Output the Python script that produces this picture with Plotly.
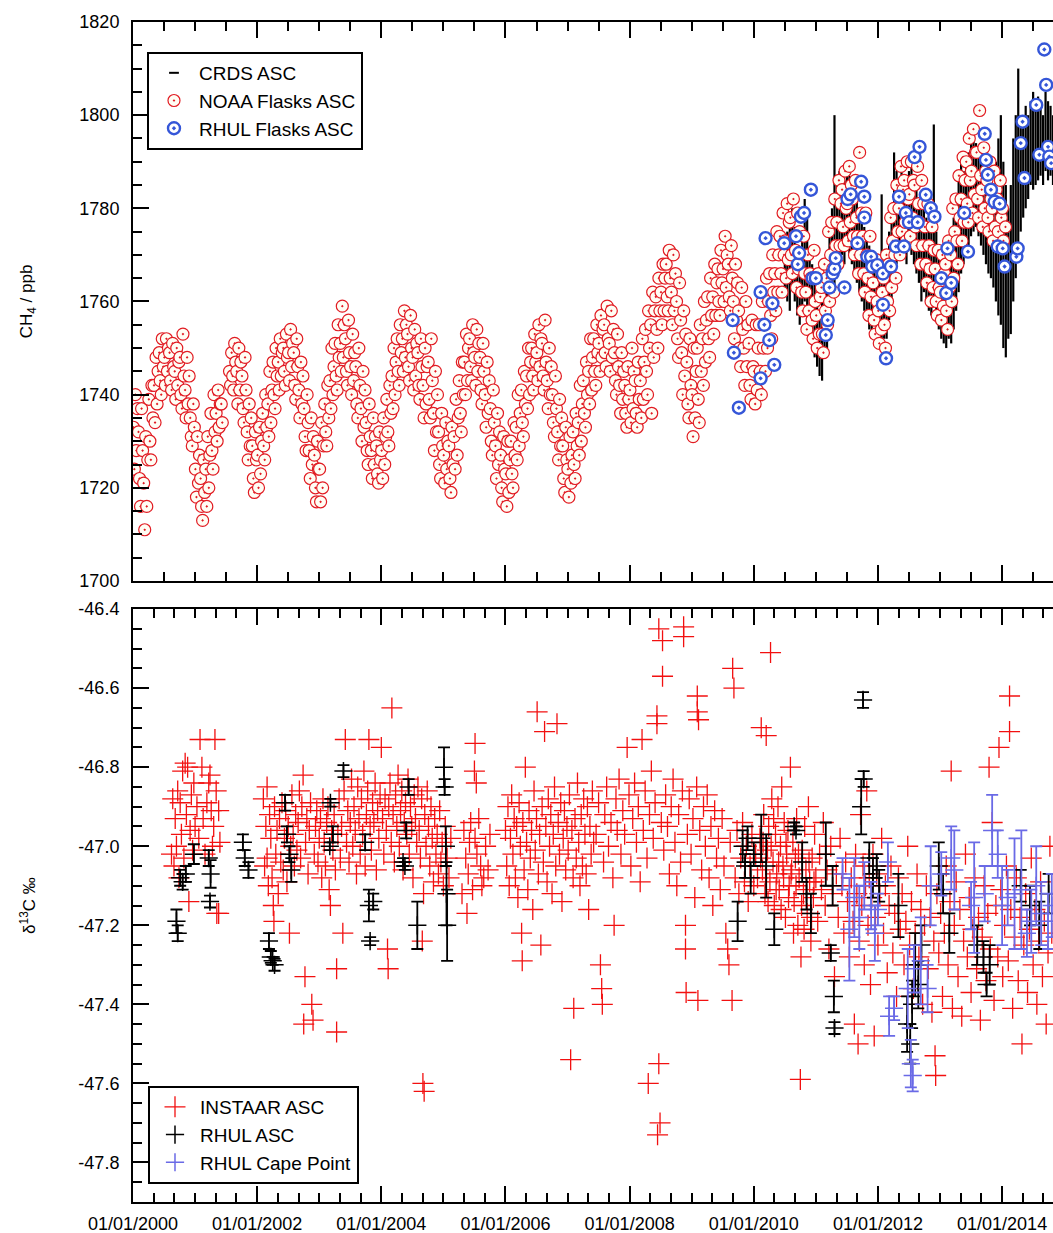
import plotly.graph_objects as go

FONT = "Liberation Sans, Arial, sans-serif"

# ---------------- top panel: CH4 (ppb) ----------------
# NOAA flasks ASC: five samples per month (days 3, 9, 15, 21, 27), Jan 2000 -> Jan 2014
noaa_days = [3, 9, 15, 21, 27]
noaa_ch4 = [
    # 2000
    1733, 1724, 1740, 1728, 1737,  1732, 1722, 1716, 1737, 1728,  1721, 1711, 1731, 1716, 1726,
    1739, 1730, 1726, 1742, 1735,  1742, 1734, 1748, 1738, 1745,  1749, 1743, 1740, 1752, 1746,
    1748, 1742, 1752, 1745, 1750,  1749, 1743, 1741, 1751, 1746,  1745, 1739, 1750, 1742, 1747,
    1748, 1740, 1737, 1753, 1744,  1741, 1735, 1748, 1738, 1744,  1735, 1731, 1729, 1738, 1733,
    # 2001
    1724, 1718, 1731, 1721, 1727,  1722, 1716, 1713, 1726, 1719,  1724, 1716, 1731, 1720, 1727,
    1736, 1728, 1724, 1740, 1732,  1736, 1730, 1741, 1733, 1738,  1738, 1734, None, None, None,
    None, None, None, 1745, 1742,  1749, 1744, 1741, 1751, 1747,  1745, 1738, 1750, 1741, 1747,
    1744, 1737, 1734, 1748, 1741,  1732, 1726, 1738, 1729, 1735,  1729, 1722, 1719, 1732, 1726,
    # 2002
    1727, 1720, 1733, 1723, 1730,  1736, 1729, 1726, 1740, 1733,  1738, 1731, 1745, 1734, 1741,
    1747, 1740, 1737, 1750, 1744,  1747, 1741, 1752, 1744, 1749,  1750, 1745, 1742, 1753, 1748,
    1749, 1743, 1754, 1746, 1751,  1749, 1742, 1739, 1752, 1746,  1741, 1735, 1747, 1738, 1744,
    1737, 1731, 1728, 1740, 1734,  1728, 1722, 1735, 1725, 1731,  1727, 1720, 1717, 1730, 1724,
    # 2003
    1724, 1717, 1734, 1720, 1729,  1738, 1732, 1729, 1742, 1735,  1743, 1737, 1750, 1740, 1746,
    1751, 1744, 1741, 1755, 1748,  1751, 1745, 1759, 1748, 1755,  1752, 1745, 1742, 1756, 1749,
    1746, 1740, 1753, 1743, 1749,  1746, 1738, 1735, 1750, 1742,  1737, 1730, 1745, 1733, 1741,
    1734, 1728, 1725, 1738, 1731,  1728, 1722, 1735, 1725, 1731,  1729, 1723, 1721, 1732, 1726,
    # 2004
    1728, 1722, 1735, 1725, 1731,  1739, 1732, 1729, 1742, 1736,  1744, 1737, 1750, 1740, 1747,
    1752, 1745, 1742, 1755, 1749,  1752, 1745, 1758, 1748, 1755,  1753, 1746, 1743, 1757, 1750,
    1748, 1741, 1754, 1744, 1751,  1749, 1742, 1739, 1752, 1746,  1742, 1735, 1750, 1738, 1746,
    1747, 1739, 1735, 1752, 1743,  1736, 1728, 1745, 1732, 1740,  1732, 1725, 1722, 1736, 1729,
    # 2005
    1727, 1721, 1734, 1724, 1730,  1729, 1722, 1719, 1733, 1725,  1731, 1724, 1739, 1727, 1735,
    1743, 1736, 1732, 1747, 1740,  1747, 1740, 1753, 1743, 1750,  1752, 1746, 1743, 1755, 1749,
    1748, 1742, 1754, 1745, 1751,  1748, 1741, 1738, 1751, 1745,  1740, 1733, 1747, 1736, 1743,
    1737, 1730, 1727, 1741, 1734,  1729, 1722, 1736, 1725, 1732,  1727, 1720, 1717, 1731, 1724,
    # 2006
    1723, 1716, 1730, 1719, 1726,  1730, 1723, 1720, 1734, 1727,  1733, 1726, 1740, 1729, 1736,
    1741, 1734, 1731, 1745, 1738,  1744, 1737, 1750, 1740, 1747,  1750, 1744, 1741, 1753, 1747,
    1749, 1743, 1755, 1746, 1752,  1751, 1744, 1741, 1756, 1747,  1743, 1737, 1750, 1740, 1746,
    1740, 1734, 1731, 1744, 1737,  1732, 1726, 1739, 1729, 1735,  1729, 1722, 1719, 1733, 1726,
    # 2007
    1724, 1718, 1731, 1721, 1727,  1732, 1725, 1722, 1736, 1729,  1734, 1727, 1742, 1730, 1738,
    1743, 1736, 1733, 1747, 1740,  1745, 1738, 1752, 1741, 1748,  1752, 1745, 1742, 1755, 1749,
    1751, 1745, 1757, 1748, 1754,  1755, 1749, 1746, 1759, 1752,  1751, 1745, 1758, 1748, 1754,
    1749, 1743, 1740, 1753, 1746,  1742, 1736, 1749, 1739, 1745,  1742, 1736, 1733, 1746, 1739,
    # 2008
    1741, 1734, 1750, 1737, 1745,  1743, 1736, 1733, 1747, 1739,  1743, 1735, 1752, 1739, 1747,
    1754, 1745, 1740, 1758, 1750,  1755, 1736, 1762, 1748, 1758,  1761, 1754, 1750, 1765, 1758,
    1762, 1755, 1768, 1758, 1765,  1768, 1761, 1758, 1771, 1765,  1762, 1755, 1770, 1758, 1766,
    1760, 1752, 1748, 1764, 1756,  1749, 1740, 1758, 1744, 1753,  1747, 1738, 1735, 1752, 1742,
    # 2009
    1740, 1731, 1750, 1735, 1745,  1750, 1739, 1734, 1755, 1745,  1752, 1742, 1760, 1747, 1756,
    1761, 1752, 1748, 1765, 1757,  1761, 1753, 1768, 1757, 1764,  1767, 1760, 1757, 1771, 1764,
    1767, 1760, 1774, 1763, 1770,  1768, 1761, 1758, 1772, 1765,  1760, 1752, 1768, 1756, 1764,
    1758, 1750, 1746, 1763, 1754,  1750, 1742, 1760, 1746, 1755,  1751, 1742, 1739, 1756, 1746,
    # 2010
    1745, 1738, 1755, 1741, 1750,  1755, 1745, 1740, 1760, 1750,  1755, 1745, 1765, 1750, 1760,
    1766, 1757, 1752, 1770, 1762,  1766, 1758, 1775, 1762, 1770,  1774, 1766, 1762, 1779, 1770,
    1773, 1765, 1781, 1769, 1777,  1778, 1770, 1766, 1782, 1774,  1771, 1763, 1779, 1767, 1775,
    1770, 1762, 1758, 1774, 1766,  1762, 1754, 1770, 1758, 1766,  1765, 1756, 1752, 1771, 1760,
    # 2011
    1757, 1750, 1766, 1753, 1761,  1763, 1753, 1749, 1768, 1758,  1765, 1755, 1775, 1760, 1770,
    1777, 1767, 1762, 1782, 1772,  1777, 1768, 1786, 1772, 1781,  1784, 1776, 1772, 1788, 1780,
    1781, 1773, 1789, 1777, 1785,  1782, 1774, 1770, 1786, 1778,  1774, 1766, 1792, 1770, 1779,
    1774, 1766, 1762, 1779, 1770,  1765, 1757, 1774, 1761, 1769,  1764, 1756, 1753, 1769, 1760,
    # 2012
    1758, 1751, 1767, 1754, 1762,  1765, 1755, 1750, 1770, 1760,  1768, 1758, 1778, 1763, 1773,
    1780, 1770, 1765, 1785, 1775,  1780, 1770, 1789, 1775, 1784,  1786, 1777, 1773, 1790, 1782,
    1783, 1774, 1790, 1778, 1786,  1785, 1776, 1772, 1789, 1781,  1777, 1768, 1786, 1772, 1781,
    1776, 1768, 1764, 1781, 1772,  1767, 1760, 1776, 1763, 1771,  1767, 1760, 1757, 1771, 1763,
    # 2013
    1762, 1756, 1770, 1759, 1766,  1768, 1758, 1754, 1773, 1763,  1770, 1760, 1780, 1765, 1775,
    1782, 1773, 1768, 1787, 1778,  1782, 1773, 1791, 1777, 1786,  1790, 1781, 1777, 1795, 1786,
    1788, 1779, 1797, 1783, 1792,  1792, 1782, 1778, 1801, 1787,  1784, 1776, 1793, 1780, 1788,
    1786, 1778, 1775, 1790, 1782,  1780, 1773, 1788, 1776, 1784,  1782, 1775, 1772, 1786, 1778,
    # 2014
    1780, 1773, None, 1776, None,
]

# RHUL flasks ASC (decimal year, ppb)
rhul_flask_pts = [
    (2009.66, 1756), (2009.68, 1749), (2009.76, 1737.2), (2010.11, 1762), (2010.11, 1743.5), (2010.17, 1755),
    (2010.19, 1773.6), (2010.25, 1751.7), (2010.30, 1759.6), (2010.33, 1746.4), (2010.49, 1772.5), (2010.68, 1774),
    (2010.71, 1768), (2010.73, 1770.4), (2010.76, 1778.2), (2010.81, 1779), (2010.92, 1784), (2010.95, 1765),
    (2011.00, 1765), (2011.16, 1752.8), (2011.19, 1756), (2011.22, 1763), (2011.27, 1766), (2011.30, 1767),
    (2011.32, 1769.3), (2011.46, 1763), (2011.51, 1782), (2011.56, 1783), (2011.67, 1772.5), (2011.73, 1785.7),
    (2011.78, 1782.5), (2011.78, 1778), (2011.83, 1769.6), (2011.89, 1769.6), (2011.91, 1767.5), (2011.99, 1767.8),
    (2012.08, 1766), (2012.08, 1759.3), (2012.13, 1747.8), (2012.21, 1767.5), (2012.29, 1771.8), (2012.34, 1782.5),
    (2012.42, 1771.8), (2012.45, 1779), (2012.50, 1777), (2012.59, 1791), (2012.64, 1777), (2012.67, 1793.2),
    (2012.77, 1782.9), (2012.85, 1780), (2012.91, 1778.2), (2013.02, 1765), (2013.10, 1761.8), (2013.12, 1771.4),
    (2013.18, 1764), (2013.39, 1779), (2013.45, 1770.7), (2013.72, 1796), (2013.74, 1790.4), (2013.77, 1787.2),
    (2013.82, 1784), (2013.88, 1781.4), (2013.93, 1771.8), (2013.96, 1781), (2014.01, 1771.4), (2014.04, 1767.5),
    (2014.23, 1769.6), (2014.25, 1771.4), (2014.30, 1794), (2014.33, 1798.6), (2014.36, 1786.5), (2014.55, 1802.2),
    (2014.60, 1791.5), (2014.68, 1814.1), (2014.71, 1806.5), (2014.74, 1793.2), (2014.76, 1791.1), (2014.79, 1789.7),
]

# CRDS ASC: fortnightly range of the continuous record (decimal year, low, high)
crds_pts = [
    (2010.50, 1762, 1772), (2010.54, 1760, 1775), (2010.58, 1758, 1778), (2010.62, 1763, 1780), (2010.66, 1760, 1776),
    (2010.70, 1757, 1772), (2010.74, 1755, 1770), (2010.78, 1758, 1776), (2010.82, 1760, 1782), (2010.86, 1756, 1778),
    (2010.90, 1752, 1770), (2010.94, 1750, 1768), (2010.98, 1748, 1765), (2011.02, 1746, 1760), (2011.06, 1744, 1758),
    (2011.10, 1743, 1762), (2011.14, 1748, 1765), (2011.18, 1750, 1770), (2011.22, 1755, 1775), (2011.26, 1760, 1780),
    (2011.30, 1762, 1800), (2011.34, 1765, 1785), (2011.38, 1768, 1788), (2011.42, 1770, 1787), (2011.46, 1768, 1786),
    (2011.50, 1772, 1788), (2011.54, 1770, 1787), (2011.58, 1768, 1784), (2011.62, 1766, 1786), (2011.66, 1764, 1782),
    (2011.70, 1762, 1780), (2011.74, 1760, 1778), (2011.78, 1758, 1776), (2011.82, 1756, 1774), (2011.86, 1754, 1772),
    (2011.90, 1752, 1770), (2011.94, 1755, 1768), (2011.98, 1752, 1766), (2012.02, 1750, 1765), (2012.06, 1751, 1783),
    (2012.10, 1752, 1768), (2012.14, 1752, 1770), (2012.18, 1756, 1775), (2012.22, 1760, 1780), (2012.26, 1765, 1792),
    (2012.30, 1768, 1788), (2012.34, 1770, 1786), (2012.38, 1772, 1790), (2012.42, 1770, 1786), (2012.46, 1768, 1785),
    (2012.50, 1772, 1788), (2012.54, 1770, 1790), (2012.58, 1768, 1786), (2012.62, 1766, 1784), (2012.66, 1764, 1782),
    (2012.70, 1760, 1780), (2012.74, 1762, 1782), (2012.78, 1760, 1778), (2012.82, 1758, 1776), (2012.86, 1757, 1780),
    (2012.90, 1760, 1798), (2012.94, 1756, 1775), (2012.98, 1754, 1772), (2013.02, 1752, 1770), (2013.06, 1751, 1768),
    (2013.10, 1750, 1770), (2013.14, 1752, 1772), (2013.18, 1751, 1775), (2013.22, 1754, 1778), (2013.26, 1758, 1782),
    (2013.30, 1762, 1786), (2013.34, 1766, 1790), (2013.38, 1768, 1788), (2013.42, 1770, 1790), (2013.46, 1772, 1792),
    (2013.50, 1774, 1795), (2013.54, 1775, 1796), (2013.58, 1776, 1794), (2013.62, 1774, 1792), (2013.66, 1772, 1790),
    (2013.70, 1770, 1788), (2013.74, 1768, 1786), (2013.78, 1766, 1785), (2013.82, 1765, 1782), (2013.86, 1763, 1785),
    (2013.90, 1760, 1790), (2013.94, 1757, 1795), (2013.98, 1755, 1800), (2014.02, 1750, 1790), (2014.06, 1748, 1785),
    (2014.10, 1752, 1780), (2014.14, 1753, 1785), (2014.18, 1760, 1795), (2014.22, 1765, 1800), (2014.26, 1770, 1810),
    (2014.30, 1775, 1800), (2014.34, 1778, 1798), (2014.38, 1780, 1802), (2014.42, 1782, 1800), (2014.46, 1785, 1803),
    (2014.50, 1784, 1805), (2014.54, 1785, 1802), (2014.58, 1786, 1804), (2014.62, 1787, 1803), (2014.66, 1785, 1800),
    (2014.70, 1788, 1805), (2014.74, 1786, 1803), (2014.78, 1787, 1802), (2014.82, 1785, 1800),
]

# ---------------- bottom panel: delta13C (permil) ----------------
instaar_pts = [
    # 2000.6 - 2001.4
    (2000.62, -47.02), (2000.64, -46.88), (2000.66, -47.05), (2000.68, -46.93), (2000.70, -47.00), (2000.72, -46.86),
    (2000.74, -47.08), (2000.76, -46.89), (2000.78, -46.97), (2000.80, -46.81), (2000.82, -47.03), (2000.84, -46.79),
    (2000.86, -46.92), (2000.88, -46.80), (2000.90, -47.14), (2000.92, -46.96), (2000.94, -46.87), (2000.96, -47.01),
    (2000.98, -46.84), (2001.00, -46.95), (2001.03, -46.90), (2001.06, -46.98), (2001.08, -46.73), (2001.11, -46.80),
    (2001.13, -46.93), (2001.16, -47.02), (2001.19, -46.89), (2001.22, -46.84), (2001.24, -46.82), (2001.26, -46.91),
    (2001.28, -47.00), (2001.30, -46.95), (2001.32, -46.73), (2001.34, -46.86), (2001.35, -47.17), (2001.38, -46.91),
    (2001.38, -47.17), (2001.40, -46.99),
    # 2002.1 - 2005.1
    (2002.10, -46.88), (2002.12, -47.05), (2002.14, -46.95), (2002.16, -46.85), (2002.16, -47.03), (2002.18, -47.10),
    (2002.20, -46.92), (2002.22, -46.98), (2002.24, -47.08), (2002.26, -47.15), (2002.27, -47.19), (2002.28, -46.90),
    (2002.30, -47.02), (2002.32, -46.96), (2002.34, -47.12), (2002.36, -46.93), (2002.38, -47.04), (2002.40, -46.89),
    (2002.42, -47.06), (2002.44, -46.98), (2002.46, -46.91), (2002.48, -47.09), (2002.50, -46.95), (2002.52, -47.22),
    (2002.54, -47.00), (2002.56, -46.87), (2002.58, -46.97), (2002.60, -47.05), (2002.62, -46.92), (2002.64, -47.01),
    (2002.66, -46.94), (2002.68, -46.86), (2002.70, -47.03), (2002.72, -46.90), (2002.74, -46.82), (2002.75, -47.45),
    (2002.77, -47.33), (2002.78, -46.99), (2002.80, -46.93), (2002.82, -47.07), (2002.84, -46.96), (2002.86, -46.89),
    (2002.88, -47.40), (2002.90, -47.44), (2002.92, -47.02), (2002.94, -46.95), (2002.96, -46.91), (2002.98, -47.04),
    (2003.00, -46.98), (2003.02, -46.93), (2003.04, -47.08), (2003.06, -46.88), (2003.08, -46.99), (2003.10, -47.05),
    (2003.12, -46.94), (2003.14, -46.90), (2003.16, -47.11), (2003.18, -47.15), (2003.20, -46.96), (2003.22, -47.01),
    (2003.24, -46.92), (2003.26, -47.06), (2003.28, -47.31), (2003.28, -47.47), (2003.30, -46.97), (2003.32, -46.88),
    (2003.34, -47.03), (2003.36, -46.95), (2003.38, -47.22), (2003.40, -46.86), (2003.42, -46.73), (2003.44, -46.99),
    (2003.46, -46.91), (2003.48, -47.04), (2003.50, -46.94), (2003.52, -46.83), (2003.54, -47.00), (2003.56, -46.90),
    (2003.58, -46.96), (2003.60, -47.07), (2003.62, -46.85), (2003.64, -46.93), (2003.66, -47.02), (2003.68, -46.88),
    (2003.70, -46.97), (2003.72, -46.81), (2003.74, -47.05), (2003.76, -46.92), (2003.78, -46.86), (2003.80, -46.73),
    (2003.82, -46.95), (2003.84, -47.01), (2003.86, -46.89), (2003.88, -46.94), (2003.90, -46.84), (2003.92, -47.06),
    (2003.94, -46.91), (2003.96, -46.98), (2003.98, -46.87), (2004.00, -46.75), (2004.02, -46.93), (2004.04, -47.02),
    (2004.06, -46.88), (2004.08, -46.96), (2004.10, -47.26), (2004.11, -47.31), (2004.12, -46.90), (2004.14, -46.84),
    (2004.16, -46.99), (2004.17, -46.65), (2004.19, -46.92), (2004.21, -47.04), (2004.23, -46.87), (2004.25, -46.95),
    (2004.27, -46.82), (2004.29, -47.00), (2004.31, -46.91), (2004.33, -46.86), (2004.35, -47.06), (2004.37, -46.94),
    (2004.39, -46.89), (2004.41, -46.97), (2004.43, -46.83), (2004.45, -47.02), (2004.47, -46.90), (2004.49, -46.95),
    (2004.51, -47.08), (2004.53, -46.87), (2004.55, -46.93), (2004.57, -46.99), (2004.59, -46.85), (2004.61, -46.96),
    (2004.63, -47.03), (2004.65, -46.88), (2004.66, -47.24), (2004.67, -47.60), (2004.68, -47.12), (2004.69, -47.62),
    (2004.70, -46.92), (2004.72, -47.00), (2004.74, -46.86), (2004.76, -46.95), (2004.78, -47.05), (2004.80, -46.90),
    (2004.82, -46.98), (2004.84, -47.09), (2004.86, -46.93), (2004.88, -47.02), (2004.90, -46.97), (2004.92, -47.07),
    (2004.94, -46.91), (2004.96, -47.04), (2004.98, -46.99), (2005.00, -47.10), (2005.03, -46.95), (2005.06, -47.03),
    (2005.09, -47.08), (2005.12, -46.98),
    # 2005.3 - 2005.8
    (2005.30, -47.12), (2005.33, -46.96), (2005.36, -47.03), (2005.38, -47.17), (2005.40, -47.07), (2005.42, -46.99),
    (2005.44, -46.94), (2005.47, -47.11), (2005.50, -46.81), (2005.51, -46.74), (2005.51, -46.98), (2005.53, -46.84),
    (2005.54, -47.02), (2005.57, -46.93), (2005.60, -47.05), (2005.62, -47.10), (2005.65, -47.08), (2005.68, -47.00),
    (2005.72, -47.06), (2005.75, -46.97),
    # 2006.0 - 2007.45
    (2006.00, -46.96), (2006.02, -47.05), (2006.04, -46.90), (2006.06, -47.10), (2006.08, -46.98), (2006.10, -46.87),
    (2006.12, -47.02), (2006.14, -46.93), (2006.16, -47.08), (2006.18, -46.95), (2006.20, -47.13), (2006.22, -46.89),
    (2006.24, -47.00), (2006.26, -47.22), (2006.27, -47.29), (2006.28, -46.94), (2006.30, -47.06), (2006.32, -46.80),
    (2006.34, -46.99), (2006.36, -47.11), (2006.38, -46.91), (2006.40, -47.03), (2006.42, -46.96), (2006.44, -47.16),
    (2006.46, -46.86), (2006.48, -47.01), (2006.50, -46.93), (2006.51, -46.66), (2006.53, -47.07), (2006.55, -46.97),
    (2006.57, -47.25), (2006.59, -46.90), (2006.61, -47.04), (2006.63, -46.71), (2006.65, -46.95), (2006.67, -47.09),
    (2006.69, -46.88), (2006.71, -47.00), (2006.73, -46.92), (2006.75, -47.12), (2006.77, -46.97), (2006.79, -46.85),
    (2006.81, -47.05), (2006.83, -46.69), (2006.85, -46.94), (2006.87, -47.02), (2006.89, -46.89), (2006.91, -47.14),
    (2006.93, -46.98), (2006.95, -46.91), (2006.97, -47.06), (2006.99, -46.95), (2007.01, -47.01), (2007.03, -46.87),
    (2007.05, -47.54), (2007.07, -46.96), (2007.09, -47.08), (2007.10, -47.41), (2007.12, -46.93), (2007.14, -47.03),
    (2007.16, -46.84), (2007.18, -46.99), (2007.20, -47.10), (2007.22, -46.92), (2007.24, -47.05), (2007.26, -46.88),
    (2007.28, -46.97), (2007.30, -47.07), (2007.32, -46.90), (2007.34, -47.16), (2007.36, -46.95), (2007.38, -47.02),
    (2007.40, -46.86), (2007.42, -46.99),
    # 2007.45 - 2010.1
    (2007.46, -46.97), (2007.50, -46.89), (2007.53, -47.30), (2007.55, -47.36), (2007.56, -47.40), (2007.58, -47.04),
    (2007.60, -46.92), (2007.63, -46.85), (2007.66, -47.00), (2007.70, -46.94), (2007.73, -47.08), (2007.75, -47.20),
    (2007.78, -46.88), (2007.80, -46.96), (2007.83, -46.83), (2007.86, -47.02), (2007.89, -46.91), (2007.92, -46.97),
    (2007.96, -46.75), (2007.99, -46.87), (2008.02, -47.05), (2008.05, -46.93), (2008.08, -46.84), (2008.11, -46.99),
    (2008.14, -46.90), (2008.17, -47.09), (2008.20, -46.73), (2008.22, -46.96), (2008.25, -46.86), (2008.28, -47.03),
    (2008.30, -47.60), (2008.32, -46.92), (2008.35, -46.81), (2008.38, -46.98), (2008.41, -46.89), (2008.44, -46.67),
    (2008.44, -46.69), (2008.45, -47.73), (2008.47, -46.45), (2008.47, -47.55), (2008.49, -47.70), (2008.51, -46.94),
    (2008.53, -46.48), (2008.53, -46.57), (2008.55, -47.01), (2008.58, -46.87), (2008.61, -46.95), (2008.64, -47.07),
    (2008.67, -46.90), (2008.70, -46.83), (2008.73, -46.99), (2008.76, -47.10), (2008.79, -46.92), (2008.82, -47.04),
    (2008.85, -46.86), (2008.87, -46.445), (2008.87, -46.47), (2008.90, -47.20), (2008.90, -47.26), (2008.91, -47.37),
    (2008.93, -46.97), (2008.96, -46.88), (2008.99, -47.02), (2009.02, -46.93), (2009.05, -47.13), (2009.08, -46.85),
    (2009.09, -46.62), (2009.09, -46.66), (2009.10, -47.39), (2009.11, -46.68), (2009.13, -46.96), (2009.16, -47.06),
    (2009.19, -46.90), (2009.22, -47.00), (2009.25, -46.87), (2009.28, -47.08), (2009.31, -46.95), (2009.34, -47.15),
    (2009.37, -46.91), (2009.40, -47.03), (2009.43, -46.98), (2009.46, -47.11), (2009.49, -46.93), (2009.52, -47.05),
    (2009.55, -47.22), (2009.58, -47.26), (2009.60, -47.30), (2009.62, -46.99), (2009.65, -47.39), (2009.66, -46.55),
    (2009.68, -46.60), (2009.70, -47.08), (2009.73, -46.96), (2009.76, -47.12), (2009.79, -47.03), (2009.82, -46.94),
    (2009.85, -47.09), (2009.88, -47.00), (2009.91, -47.14), (2009.94, -47.05), (2009.97, -46.97), (2010.00, -47.10),
    (2010.03, -47.02), (2010.06, -47.08),
    # 2010.1 - 2014.8
    (2010.10, -46.98), (2010.11, -47.03), (2010.12, -46.70), (2010.14, -47.06), (2010.15, -46.99), (2010.16, -46.92),
    (2010.18, -47.12), (2010.19, -47.08), (2010.20, -46.72), (2010.22, -47.01), (2010.23, -47.14), (2010.24, -46.95),
    (2010.26, -47.09), (2010.27, -46.51), (2010.28, -47.00), (2010.29, -46.88), (2010.31, -47.04), (2010.32, -46.93),
    (2010.33, -47.15), (2010.35, -46.97), (2010.36, -47.11), (2010.37, -47.07), (2010.39, -46.90), (2010.40, -47.04),
    (2010.41, -47.11), (2010.43, -47.00), (2010.44, -47.16), (2010.45, -46.85), (2010.47, -47.05), (2010.48, -47.08),
    (2010.49, -46.94), (2010.51, -47.18), (2010.52, -46.99), (2010.53, -47.02), (2010.55, -46.96), (2010.56, -47.13),
    (2010.57, -47.10), (2010.59, -46.80), (2010.60, -47.07), (2010.61, -47.06), (2010.63, -46.99), (2010.64, -47.22),
    (2010.65, -47.14), (2010.67, -47.03), (2010.68, -47.10), (2010.69, -46.93), (2010.71, -47.20), (2010.72, -47.02),
    (2010.73, -47.08), (2010.75, -47.59), (2010.76, -47.28), (2010.77, -47.15), (2010.78, -47.01), (2010.80, -47.12),
    (2010.81, -47.21), (2010.82, -46.95), (2010.84, -47.06), (2010.85, -47.11), (2010.86, -47.17), (2010.88, -46.90),
    (2010.89, -47.04), (2010.90, -47.09), (2010.92, -47.24), (2010.93, -47.18), (2010.94, -47.03), (2010.96, -47.13),
    (2010.97, -47.09), (2010.98, -46.97), (2011.00, -47.08), (2011.03, -47.19), (2011.06, -47.02), (2011.09, -47.11),
    (2011.12, -46.94), (2011.15, -47.15), (2011.18, -47.06), (2011.21, -47.26), (2011.24, -47.00), (2011.27, -47.12),
    (2011.30, -47.33), (2011.33, -47.07), (2011.36, -47.18), (2011.39, -46.98), (2011.42, -47.10), (2011.45, -47.22),
    (2011.48, -47.04), (2011.51, -47.14), (2011.54, -47.28), (2011.57, -47.08), (2011.60, -47.19), (2011.62, -47.45),
    (2011.64, -47.02), (2011.66, -47.12), (2011.68, -47.50), (2011.70, -47.24), (2011.72, -46.92), (2011.74, -47.15),
    (2011.76, -47.05), (2011.78, -47.30), (2011.80, -47.10), (2011.82, -46.86), (2011.84, -47.20), (2011.86, -47.08),
    (2011.88, -47.35), (2011.90, -47.13), (2011.92, -47.02), (2011.94, -47.48), (2011.96, -47.18), (2011.98, -47.07),
    (2012.00, -47.25), (2012.03, -47.12), (2012.06, -46.98), (2012.09, -47.22), (2012.12, -47.10), (2012.15, -47.32),
    (2012.18, -47.15), (2012.21, -47.05), (2012.24, -47.27), (2012.27, -47.17), (2012.30, -47.38), (2012.33, -47.08),
    (2012.36, -47.21), (2012.39, -47.12), (2012.42, -47.30), (2012.45, -47.19), (2012.48, -47.00), (2012.51, -47.25),
    (2012.54, -47.14), (2012.57, -47.36), (2012.60, -47.22), (2012.63, -47.07), (2012.66, -47.28), (2012.69, -47.16),
    (2012.72, -47.40), (2012.75, -47.20), (2012.78, -47.10), (2012.81, -47.31), (2012.84, -47.18), (2012.87, -47.42),
    (2012.90, -47.24), (2012.92, -47.53), (2012.93, -47.58), (2012.95, -47.12), (2012.98, -47.27), (2013.01, -47.17),
    (2013.04, -47.38), (2013.07, -47.22), (2013.10, -47.05), (2013.13, -47.30), (2013.16, -47.14), (2013.18, -46.81),
    (2013.20, -47.41), (2013.23, -47.20), (2013.26, -47.09), (2013.29, -47.33), (2013.32, -47.16), (2013.35, -47.43),
    (2013.38, -47.24), (2013.41, -47.02), (2013.44, -47.28), (2013.47, -47.13), (2013.50, -47.37), (2013.53, -47.21),
    (2013.56, -47.08), (2013.59, -47.31), (2013.62, -47.18), (2013.65, -47.44), (2013.68, -47.23), (2013.71, -47.10),
    (2013.74, -47.34), (2013.77, -47.17), (2013.79, -46.80), (2013.81, -47.26), (2013.84, -46.94), (2013.87, -47.39),
    (2013.90, -47.15), (2013.93, -47.28), (2013.95, -46.75), (2013.98, -47.11), (2014.01, -47.33), (2014.04, -47.20),
    (2014.07, -47.05), (2014.10, -47.29), (2014.12, -46.62), (2014.12, -46.71), (2014.14, -47.16), (2014.17, -47.41),
    (2014.20, -47.23), (2014.23, -47.08), (2014.26, -47.34), (2014.29, -47.18), (2014.32, -47.50), (2014.35, -47.25),
    (2014.38, -47.12), (2014.41, -47.37), (2014.44, -47.21), (2014.47, -47.03), (2014.50, -47.30), (2014.53, -47.16),
    (2014.56, -47.40), (2014.59, -47.24), (2014.62, -47.09), (2014.65, -47.33), (2014.68, -47.19), (2014.71, -47.45),
    (2014.74, -47.27), (2014.77, -47.00), (2014.80, -47.22),
]

# RHUL ASC (decimal year, delta13C, 1-sigma)
rhul_asc_pts = [
    (2000.70, -47.19, 0.03), (2000.72, -47.22, 0.02), (2000.76, -47.08, 0.02), (2000.80, -47.09, 0.02),
    (2000.85, -47.07, 0.02), (2000.98, -47.02, 0.025), (2001.22, -47.03, 0.02), (2001.25, -47.07, 0.035),
    (2001.24, -47.14, 0.015), (2001.77, -46.99, 0.02), (2001.80, -47.03, 0.02), (2001.86, -47.06, 0.02),
    (2002.19, -47.24, 0.02), (2002.22, -47.28, 0.015), (2002.25, -47.29, 0.01), (2002.28, -47.30, 0.015),
    (2002.45, -46.89, 0.02), (2002.48, -46.97, 0.02), (2002.52, -47.02, 0.02), (2002.55, -47.06, 0.03),
    (2003.17, -47.00, 0.01), (2003.18, -46.89, 0.01), (2003.22, -46.97, 0.02), (2003.39, -46.81, 0.015),
    (2003.74, -46.99, 0.02), (2003.80, -47.15, 0.04), (2003.87, -47.14, 0.02), (2003.82, -47.24, 0.01),
    (2004.35, -47.04, 0.01), (2004.38, -47.05, 0.01), (2004.40, -46.96, 0.02), (2004.44, -46.85, 0.02),
    (2004.58, -47.20, 0.06), (2005.01, -46.80, 0.05), (2005.02, -46.85, 0.02), (2005.04, -47.00, 0.05),
    (2005.05, -47.12, 0.08), (2005.06, -47.20, 0.09),
    (2009.74, -47.19, 0.05), (2009.82, -47.00, 0.04), (2009.86, -47.05, 0.03), (2009.90, -46.98, 0.03),
    (2009.95, -47.08, 0.04), (2010.00, -47.02, 0.03), (2010.12, -46.98, 0.06), (2010.20, -47.05, 0.08),
    (2010.33, -47.21, 0.04), (2010.65, -46.95, 0.01), (2010.68, -46.96, 0.01), (2010.78, -47.04, 0.05),
    (2010.85, -47.12, 0.04), (2010.92, -47.17, 0.05), (2011.16, -47.02, 0.08), (2011.27, -47.10, 0.05),
    (2011.24, -47.27, 0.02), (2011.29, -47.38, 0.04), (2011.30, -47.46, 0.015), (2011.73, -46.90, 0.07),
    (2011.76, -46.63, 0.02), (2011.77, -46.83, 0.02), (2011.86, -47.03, 0.04), (2011.92, -47.08, 0.05),
    (2011.98, -47.05, 0.03), (2012.02, -47.10, 0.04), (2012.33, -47.15, 0.08), (2012.47, -47.45, 0.07),
    (2012.52, -47.50, 0.05), (2012.55, -47.40, 0.06), (2012.60, -47.30, 0.08), (2012.65, -47.35, 0.06),
    (2012.70, -47.25, 0.05), (2012.98, -47.05, 0.06), (2013.05, -47.12, 0.05), (2013.15, -47.22, 0.05),
    (2013.60, -47.25, 0.05), (2013.70, -47.28, 0.04), (2013.75, -47.35, 0.03), (2013.80, -47.30, 0.05),
    (2014.30, -47.10, 0.04), (2014.45, -47.15, 0.05), (2014.60, -47.20, 0.06), (2014.75, -47.12, 0.05),
]

# RHUL Cape Point (decimal year, delta13C, 1-sigma)
cape_pts = [
    (2011.43, -47.07, 0.04), (2011.54, -47.21, 0.13), (2011.62, -47.13, 0.10), (2011.70, -47.18, 0.08),
    (2011.78, -47.10, 0.06), (2011.89, -47.15, 0.06), (2011.95, -47.22, 0.07), (2012.00, -47.16, 0.04),
    (2012.16, -47.04, 0.05), (2012.18, -47.43, 0.05), (2012.26, -47.41, 0.03), (2012.48, -47.36, 0.10),
    (2012.53, -47.55, 0.06), (2012.56, -47.58, 0.04), (2012.58, -47.31, 0.06), (2012.69, -47.29, 0.11),
    (2012.80, -47.36, 0.06), (2012.85, -47.10, 0.10), (2013.02, -47.07, 0.055), (2013.18, -47.03, 0.08),
    (2013.23, -47.06, 0.10), (2013.50, -47.15, 0.06), (2013.55, -47.13, 0.14), (2013.72, -47.12, 0.07),
    (2013.84, -46.96, 0.09), (2013.93, -47.02, 0.06), (2014.00, -47.15, 0.10), (2014.09, -47.13, 0.07),
    (2014.20, -47.12, 0.14), (2014.31, -47.11, 0.15), (2014.40, -47.22, 0.06), (2014.47, -47.19, 0.08),
    (2014.55, -47.10, 0.10), (2014.63, -47.17, 0.08), (2014.74, -47.19, 0.07), (2014.80, -47.15, 0.08),
]

x_tick_years = [2000, 2002, 2004, 2006, 2008, 2010, 2012, 2014]
x_tick_text = ["01/01/%d" % y for y in x_tick_years]
ch4_ticks = [1700, 1720, 1740, 1760, 1780, 1800, 1820]
d13_ticks = [-47.8, -47.6, -47.4, -47.2, -47.0, -46.8, -46.6, -46.4]
d13_text = ["%.1f" % v for v in d13_ticks]

# ---- derived arrays ----
n_per_month = len(noaa_days)
noaa_x, noaa_y = [], []
for i, v in enumerate(noaa_ch4):
    mi = i // n_per_month
    day = noaa_days[i % n_per_month]
    noaa_x.append(2000 + (mi + (day - 1) / 30.4) / 12)
    noaa_y.append(v)

crds_x, crds_y = [], []
for yr, lo, hi in crds_pts:
    crds_x += [yr, yr, None]
    crds_y += [lo, hi, None]

RED_C = "#E11B22"
BLUE_C = "#3556D8"
INST_C = "#F21010"
CAPE_C = "#6A6AE6"

fig = go.Figure()

# top panel
fig.add_trace(go.Scatter(x=[None], y=[None], mode="markers", name="CRDS ASC",
                         marker=dict(symbol="line-ew", size=7, line=dict(width=2, color="black")),
                         xaxis="x", yaxis="y", legend="legend"))
fig.add_trace(go.Scatter(x=crds_x, y=crds_y, mode="lines", name="CRDS ASC", showlegend=False,
                         line=dict(color="black", width=2.2), xaxis="x", yaxis="y"))
fig.add_trace(go.Scatter(x=noaa_x, y=noaa_y, mode="markers", name="NOAA Flasks ASC",
                         marker=dict(symbol="circle-dot", size=12, color="#FFFDF4",
                                     line=dict(width=1.2, color=RED_C)),
                         xaxis="x", yaxis="y", legend="legend"))
fig.add_trace(go.Scatter(x=[p[0] for p in rhul_flask_pts], y=[p[1] for p in rhul_flask_pts],
                         mode="markers", name="RHUL Flasks ASC",
                         marker=dict(symbol="circle-dot", size=12, color="white",
                                     line=dict(width=2.4, color=BLUE_C)),
                         xaxis="x", yaxis="y", legend="legend"))

# bottom panel
fig.add_trace(go.Scatter(x=[p[0] for p in instaar_pts], y=[p[1] for p in instaar_pts],
                         mode="markers", name="INSTAAR ASC",
                         marker=dict(symbol="cross-thin", size=15, line=dict(width=1.3, color=INST_C)),
                         xaxis="x2", yaxis="y2", legend="legend2"))
fig.add_trace(go.Scatter(x=[p[0] for p in rhul_asc_pts], y=[p[1] for p in rhul_asc_pts],
                         mode="markers", name="RHUL ASC",
                         marker=dict(symbol="cross-thin", size=13, line=dict(width=1.5, color="black")),
                         error_y=dict(type="data", array=[p[2] for p in rhul_asc_pts], visible=True,
                                      color="black", thickness=1.8, width=6),
                         xaxis="x2", yaxis="y2", legend="legend2"))
fig.add_trace(go.Scatter(x=[p[0] for p in cape_pts], y=[p[1] for p in cape_pts],
                         mode="markers", name="RHUL Cape Point",
                         marker=dict(symbol="cross-thin", size=13, line=dict(width=1.5, color=CAPE_C)),
                         error_y=dict(type="data", array=[p[2] for p in cape_pts], visible=True,
                                      color=CAPE_C, thickness=1.8, width=6),
                         xaxis="x2", yaxis="y2", legend="legend2"))

XR = [2000, 2014.82]
axis_common = dict(showgrid=False, zeroline=False, showline=True, linecolor="black", linewidth=2,
                   ticks="inside", tickcolor="black", tickwidth=1.5, ticklen=16)
tickfont = dict(family=FONT, size=18, color="black")

fig.update_layout(
    width=1053, height=1233,
    margin=dict(l=133, r=0, t=22, b=31),
    paper_bgcolor="white", plot_bgcolor="white",
    font=dict(family=FONT, size=18, color="black"),
    xaxis=dict(domain=[0, 1], anchor="y", range=XR, mirror="ticks", tickvals=x_tick_years,
               showticklabels=False,
               minor=dict(tick0=2000, dtick=0.5, ticks="inside", ticklen=9, tickwidth=1.5, tickcolor="black"),
               **axis_common),
    xaxis2=dict(domain=[0, 1], anchor="y2", range=XR, matches="x", mirror="ticks", tickvals=x_tick_years,
                ticktext=x_tick_text, tickfont=tickfont, ticklabelstandoff=4,
                minor=dict(tick0=2000, dtick=1 / 3, ticks="inside", ticklen=9, tickwidth=1.5, tickcolor="black"),
                **axis_common),
    yaxis=dict(domain=[0.5263, 1], anchor="x", range=[1700, 1820], tickvals=ch4_ticks,
               ticktext=[str(v) for v in ch4_ticks], tickfont=tickfont, ticklabelstandoff=8,
               minor=dict(tick0=1700, dtick=5, ticks="inside", ticklen=9, tickwidth=1.5, tickcolor="black"),
               title=dict(text="CH<sub>4</sub> / ppb", font=dict(family=FONT, size=17), standoff=42),
               **axis_common),
    yaxis2=dict(domain=[0, 0.5025], anchor="x2", range=[-47.9, -46.4], tickvals=d13_ticks,
                ticktext=d13_text, tickfont=tickfont, ticklabelstandoff=8,
                minor=dict(tick0=-46.4, dtick=0.05, ticks="inside", ticklen=9, tickwidth=1.5, tickcolor="black"),
                title=dict(text="δ<sup>13</sup>C ‰", font=dict(family=FONT, size=17), standoff=38),
                **axis_common),
    yaxis3=dict(overlaying="y", side="right", anchor="x", range=[1700, 1820], tickvals=ch4_ticks,
                showticklabels=False, showgrid=False, zeroline=False, showline=False,
                ticks="inside", tickcolor="black", tickwidth=1.5, ticklen=16,
                minor=dict(tick0=1700, dtick=5, ticks="inside", ticklen=9, tickwidth=1.5, tickcolor="black")),
    yaxis4=dict(overlaying="y2", side="right", anchor="x2", range=[-47.9, -46.4], tickvals=d13_ticks,
                showticklabels=False, showgrid=False, zeroline=False, showline=False,
                ticks="inside", tickcolor="black", tickwidth=1.5, ticklen=16,
                minor=dict(tick0=-46.4, dtick=0.05, ticks="inside", ticklen=9, tickwidth=1.5, tickcolor="black")),
    legend=dict(x=0.0152, y=0.9746, xanchor="left", yanchor="top", bgcolor="white",
                bordercolor="black", borderwidth=2, font=dict(family=FONT, size=19),
                tracegroupgap=0, itemwidth=40),
    legend2=dict(x=0.0163, y=0.0983, xanchor="left", yanchor="top", bgcolor="white",
                 bordercolor="black", borderwidth=2, font=dict(family=FONT, size=19),
                 tracegroupgap=0, itemwidth=40),
    showlegend=True,
)

fig.write_html("out.html")
